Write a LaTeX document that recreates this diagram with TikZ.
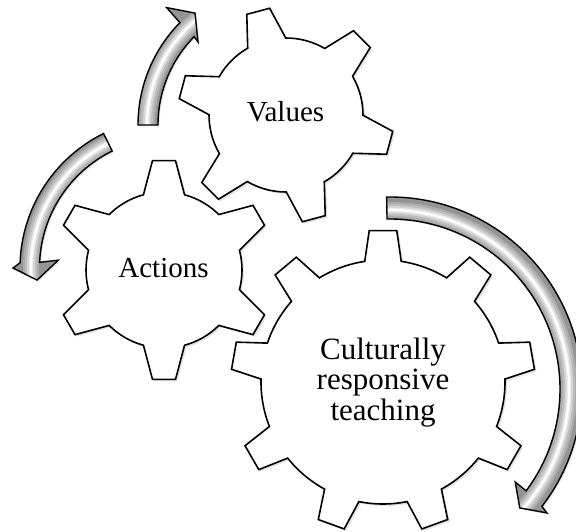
\documentclass[tikz,border=0pt]{standalone}
\usepackage{fontspec}
\setmainfont{Liberation Serif}
\usetikzlibrary{shadows}
\tikzset{
  gearline/.style={draw=black, line width=1.6pt, line join=miter, fill=white,
    drop shadow={shadow xshift=2pt, shadow yshift=-2pt, opacity=0.22}},
  arrowline/.style={draw=black, line width=1.4pt, line join=miter},
  arrowfill/.style={fill=black!42, drop shadow={shadow xshift=1.5pt, shadow yshift=-1.5pt, opacity=0.2}},
  gearlabel/.style={font=\fontsize{29}{30.5}\selectfont, inner sep=0pt, text=black},
  biglabel/.style={font=\fontsize{31}{30.5}\selectfont, inner sep=0pt, text=black, align=center},
}
% #1 cx, #2 cy, #3 teeth, #4 phase, #5 r inner, #6 r outer, #7 tip half-angle, #8 base half-angle
\newcommand\drawgear[8]{%
  \begin{scope}[shift={(#1,#2)}]
    \path[gearline] ({#4-#8}:#5pt)
      \foreach \k in {1,...,#3}{
        -- ({#4+(\k-1)*360/#3-#7}:#6pt)
        -- ({#4+(\k-1)*360/#3+#7}:#6pt)
        -- ({#4+(\k-1)*360/#3+#8}:#5pt)
        arc[start angle={#4+(\k-1)*360/#3+#8}, end angle={#4+\k*360/#3-#8}, radius=#5pt]
      } -- cycle;
  \end{scope}}
% tube shading along an arc: #1 start, #2 end, #3 radius
\newcommand\tubeshade[3]{%
  \foreach \w/\c in {16/33,12/26,8/17,4.5/8,1.8/0}{
    \draw[black!\c, line width=\w pt] (#1:#3pt) arc[start angle=#1, end angle=#2, radius=#3pt];
  }}
\newcommand\ArrowPathA{(180:146pt) arc[start angle=180, end angle=135.5, radius=146pt]
  -- (135:166pt) -- (128.5:143pt) -- (136:119.5pt) -- (135.5:126pt)
  arc[start angle=135.5, end angle=180, radius=126pt] -- cycle}
\newcommand\ArrowPathB{(116.3:150pt) arc[start angle=116.3, end angle=178, radius=150pt]
  -- (180:157pt) -- (185.2:133.5pt) -- (176:112pt) -- (177.5:130.5pt)
  arc[start angle=177.5, end angle=116.3, radius=130.5pt] -- cycle}
\newcommand\ArrowPathC{(91:192pt) arc[start angle=91, end angle=-37.7, radius=192pt]
  -- (-38.3:200pt) -- (-42.5:176pt) -- (-36.6:156pt) -- (-36.8:170pt)
  arc[start angle=-36.8, end angle=91, radius=170pt] -- cycle}
\begin{document}
\begin{tikzpicture}[x=1pt, y=1pt]
\useasboundingbox (0,0) rectangle (576,531);
\fill[white] (0,0) rectangle (576,531);

% gears
\drawgear{286}{416}{6}{105}{77}{108}{6.3}{14.8}
\drawgear{164}{261}{6}{90}{78}{110}{6.0}{15.3}
\drawgear{383}{149}{9}{90}{122}{152}{5.2}{8.6}

% labels
\node[gearlabel, anchor=base] (values) at (285.5,409) {Values};
\node[gearlabel, anchor=base] (actions) at (163.5,253) {Actions};
\node[biglabel] (crt) at (383,148.7) {Culturally\\responsive\\teaching};

% arrow from Actions side up towards Values
\begin{scope}[shift={(284,406)}]
  \path[arrowfill] \ArrowPathA;
  \begin{scope}\clip \ArrowPathA; \tubeshade{181}{127}{137}\end{scope}
  \path[arrowline] \ArrowPathA;
\end{scope}

% arrow round the Actions gear
\begin{scope}[shift={(170,263)}]
  \path[arrowfill] \ArrowPathB;
  \begin{scope}\clip \ArrowPathB; \tubeshade{115}{186}{139}\end{scope}
  \path[arrowline] \ArrowPathB;
\end{scope}

% arrow round the big gear
\begin{scope}[shift={(390,142)}]
  \path[arrowfill] \ArrowPathC;
  \begin{scope}\clip \ArrowPathC; \tubeshade{92}{-43}{179}\end{scope}
  \path[arrowline] \ArrowPathC;
\end{scope}
\end{tikzpicture}
\end{document}
